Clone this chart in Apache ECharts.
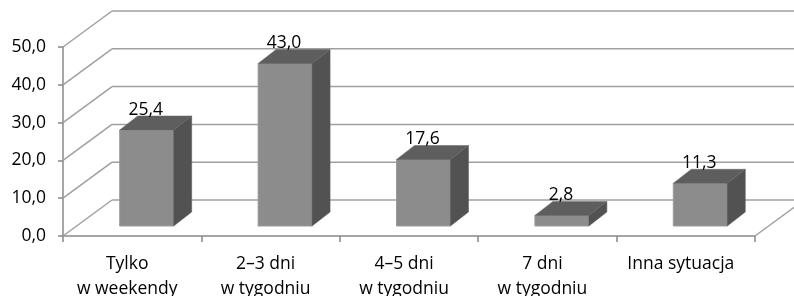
<!DOCTYPE html>
<html>
<head>
<meta charset="utf-8">
<script src="https://cdn.jsdelivr.net/npm/echarts@6/dist/echarts.min.js"></script>
<style>
  html, body { margin: 0; padding: 0; background: #fff; }
  #chart { width: 794px; height: 296px; }
</style>
</head>
<body>
<div id="chart"></div>
<script>
const categories = ['Tylko\nw weekendy', '2–3 dni\nw tygodniu', '4–5 dni\nw tygodniu', '7 dni\nw tygodniu', 'Inna sytuacja'];
const values = [25.4, 43.0, 17.6, 2.8, 11.3];
const yTicks = [0, 10, 20, 30, 40, 50];

// 3D look (pixels)
const WALL_DX = 49, WALL_DY = -36;
const BAR_DX = 14.5, BAR_DY = -10;
const SIDE_DX = 18, SIDE_DY = -14;
const BAR_RATIO = 0.39;
const FONT = '"Open Sans", sans-serif';

const fmt = v => v.toFixed(1).replace('.', ',');

const chart = echarts.init(document.getElementById('chart'));

function renderWall(params, api) {
  const v = api.value(1);
  const bw = api.size([1, 0])[0];
  const left = api.coord([0, v])[0] - bw / 2;
  const right = api.coord([categories.length - 1, v])[0] + bw / 2;
  const y = api.coord([0, v])[1];
  const style = { stroke: '#a0a0a0', lineWidth: 1.5 };
  const children = [
    { type: 'line', shape: { x1: left, y1: y, x2: left + WALL_DX, y2: y + WALL_DY }, style },
    { type: 'line', shape: { x1: left + WALL_DX, y1: y + WALL_DY, x2: right + WALL_DX, y2: y + WALL_DY }, style }
  ];
  if (v === 0) {
    children.push({ type: 'line', shape: { x1: right, y1: y, x2: right + WALL_DX, y2: y + WALL_DY }, style });
  }
  return { type: 'group', children };
}

function renderBar(params, api) {
  const i = api.value(0);
  const v = api.value(1);
  const base = api.coord([i, 0]);
  const top = api.coord([i, v]);
  const bw = api.size([1, 0])[0] * BAR_RATIO;
  const x0 = base[0] + BAR_DX - bw / 2;
  const x1 = x0 + bw;
  const yb = base[1] + BAR_DY;
  const yt = top[1] + BAR_DY;
  return {
    type: 'group',
    children: [
      { type: 'rect', shape: { x: x0, y: yt, width: bw, height: yb - yt },
        style: { fill: '#8c8c8c', stroke: '#9a9a9a', lineWidth: 1 } },
      { type: 'polygon', shape: { points: [[x1, yb], [x1 + SIDE_DX, yb + SIDE_DY], [x1 + SIDE_DX, yt + SIDE_DY], [x1, yt]] },
        style: { fill: '#525252', stroke: '#585858', lineWidth: 0.5 } },
      { type: 'polygon', shape: { points: [[x0, yt], [x1, yt], [x1 + SIDE_DX, yt + SIDE_DY], [x0 + SIDE_DX, yt + SIDE_DY]] },
        style: { fill: '#5e5e5e', stroke: '#646464', lineWidth: 0.5 } },
      { type: 'text', x: x0 + bw / 2 - 1, y: yt - 20,
        style: { text: fmt(v), fill: '#000', font: '17.5px ' + FONT, align: 'center', verticalAlign: 'middle' } }
    ]
  };
}

const option = {
  animation: false,
  backgroundColor: '#fff',
  grid: { left: 63, right: 39, top: 47, bottom: 60, outerBoundsMode: 'none', containLabel: false },
  xAxis: {
    type: 'category',
    data: categories,
    boundaryGap: true,
    axisLine: { lineStyle: { color: '#888', width: 1.5 } },
    axisTick: { show: true, length: 6, lineStyle: { color: '#888', width: 1.5 } },
    axisLabel: {
      color: '#000', fontSize: 17.5, fontFamily: FONT, lineHeight: 25, margin: 16, interval: 0,
      padding: [0, 10, 0, 0]
    }
  },
  yAxis: {
    type: 'value',
    min: 0,
    max: 50,
    interval: 10,
    splitLine: { show: false },
    axisLine: { show: true, lineStyle: { color: '#888', width: 1.5 } },
    axisTick: { show: true, length: 5, lineStyle: { color: '#888', width: 1.5 } },
    axisLabel: { color: '#000', fontSize: 17.5, fontFamily: FONT, margin: 17, formatter: v => fmt(v) }
  },
  series: [
    {
      type: 'custom',
      z: 1,
      silent: true,
      renderItem: renderWall,
      data: yTicks.map(v => [0, v])
    },
    {
      type: 'custom',
      z: 2,
      renderItem: renderBar,
      data: values.map((v, i) => [i, v])
    }
  ]
};

chart.setOption(option);
</script>
</body>
</html>
